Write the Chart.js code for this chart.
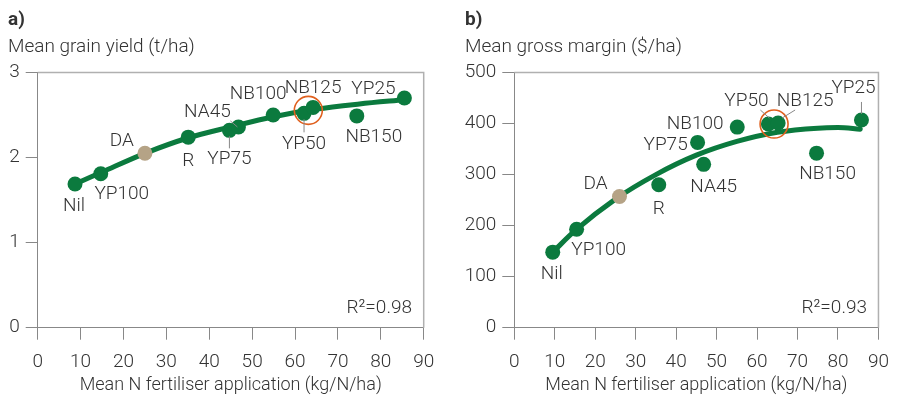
<!DOCTYPE html>
<html>
<head>
<meta charset="utf-8">
<script src="https://cdn.jsdelivr.net/npm/chart.js@4"></script>
<style>
  body { margin: 0; background: #fff; }
  .wrap { display: flex; width: 900px; height: 408px; }
  canvas { display: block; }
</style>
</head>
<body>
<div class="wrap">
  <canvas id="chartA" width="450" height="408"></canvas>
  <canvas id="chartB" width="450" height="408"></canvas>
</div>
<script>
// treatments, in the same order for both panels
const treatments = ['Nil', 'YP100', 'DA', 'R', 'YP75', 'NA45', 'NB100', 'YP50', 'NB125', 'NB150', 'YP25'];

// a) grain yield
const nRateA = [8.7, 14.7, 25.0, 35.1, 44.7, 46.8, 54.9, 62.1, 64.2, 74.4, 85.5];
const yieldA = [1.69, 1.81, 2.05, 2.24, 2.32, 2.36, 2.50, 2.52, 2.59, 2.49, 2.70];
const trendXA = [8.7, 15, 25, 35, 45, 55, 65, 75, 85.5];
const trendYA = [1.69, 1.83, 2.05, 2.23, 2.36, 2.48, 2.57, 2.63, 2.68];
const yTicksA = [0, 1, 2, 3];

// b) gross margin
const nRateB = [9.5, 15.4, 26.0, 35.7, 45.3, 46.8, 55.1, 62.8, 65.2, 74.7, 85.8];
const marginB = [148, 193, 257, 280, 363, 320, 393, 399, 401, 342, 407];
const trendXB = [9.5, 15, 25, 35, 45, 55, 65, 75, 80, 85.5];
const trendYB = [148, 190, 252, 300, 338, 365, 383, 391, 392, 389];
const yTicksB = [0, 100, 200, 300, 400, 500];

const xTicks = [0, 10, 20, 30, 40, 50, 60, 70, 80, 90];

// ringed treatments (YP50 / NB125)
const ringA = [{ x: 63.1, y: 2.555 }];
const ringB = [{ x: 64.2, y: 399 }];

const GREEN = '#0b7a3e';
const TAN = '#b5a386';
const ORANGE = '#e0601e';
const TEXT = '#333';
const FONT = 'Roboto, "Liberation Sans", sans-serif';

// label placement per treatment: [dx, dy] from the point, optional leader line
const labelsA = {
  Nil: { dx: -1, dy: 21 },
  YP100: { dx: 21, dy: 20 },
  DA: { dx: -23, dy: -13 },
  R: { dx: 0, dy: 23 },
  YP75: { dx: 0, dy: 28, lead: [0, 6, 0, 18] },
  NA45: { dx: -31, dy: -16, lead: [-8, -6, -1, 0] },
  NB100: { dx: -15, dy: -22 },
  YP50: { dx: 0, dy: 30, lead: [0, 6, 0, 19] },
  NB125: { dx: 0, dy: -20 },
  NB150: { dx: 17, dy: 20 },
  YP25: { dx: -31, dy: -10 }
};
const labelsB = {
  Nil: { dx: -1, dy: 21 },
  YP100: { dx: 22, dy: 20 },
  DA: { dx: -24, dy: -13 },
  R: { dx: 0, dy: 23 },
  YP75: { dx: -32, dy: 2 },
  NA45: { dx: 10, dy: 22 },
  NB100: { dx: -42, dy: -4 },
  YP50: { dx: -22, dy: -24, lead: [-8, -14, 1, -6] },
  NB125: { dx: 27, dy: -23, lead: [17, -13, 4, -5] },
  NB150: { dx: 11, dy: 20 },
  YP25: { dx: -8, dy: -33, lead: [0, -18, 0, -6] }
};

const panelText = {
  id: 'panelText',
  beforeDatasetsDraw(chart, args, opts) {
    const { ctx, chartArea: a } = chart;
    ctx.save();
    ctx.strokeStyle = '#b0b0b0';
    ctx.lineWidth = 1.5;
    ctx.beginPath();
    ctx.moveTo(a.left, a.top);
    ctx.lineTo(a.right, a.top);
    ctx.lineTo(a.right, a.bottom);
    ctx.stroke();
    ctx.restore();
  },
  afterDatasetsDraw(chart, args, opts) {
    const { ctx } = chart;
    const meta = chart.getDatasetMeta(0);
    ctx.save();
    ctx.fillStyle = TEXT;
    ctx.textBaseline = 'alphabetic';
    ctx.textAlign = 'left';
    ctx.font = 'bold 19px ' + FONT;
    ctx.fillText(opts.letter, opts.left, 25);
    ctx.font = '300 19px ' + FONT;
    ctx.fillText(opts.yTitle, opts.left, 52);
    ctx.textAlign = 'right';
    ctx.fillText(opts.r2, opts.r2x, 313);

    // point labels
    ctx.textAlign = 'center';
    ctx.textBaseline = 'middle';
    ctx.strokeStyle = '#888';
    ctx.lineWidth = 1;
    treatments.forEach((name, i) => {
      const p = meta.data[i];
      const l = opts.labels[name];
      if (!p || !l) return;
      ctx.fillText(name, p.x + l.dx, p.y + l.dy + 1);
      if (l.lead) {
        ctx.beginPath();
        ctx.moveTo(p.x + l.lead[0], p.y + l.lead[1]);
        ctx.lineTo(p.x + l.lead[2], p.y + l.lead[3]);
        ctx.stroke();
      }
    });
    ctx.restore();
  }
};

function makeChart(id, xs, ys, tx, ty, ring, yTicks, yMax, axisW, padRight, text) {
  const pts = xs.map((x, i) => ({ x, y: ys[i] }));
  const trend = tx.map((x, i) => ({ x, y: ty[i] }));
  const colors = treatments.map(t => (t === 'DA' ? TAN : GREEN));
  return new Chart(document.getElementById(id), {
    type: 'scatter',
    data: {
      datasets: [
        {
          data: pts,
          pointRadius: 7.5,
          pointBackgroundColor: colors,
          pointBorderWidth: 0,
          order: 1
        },
        {
          data: trend,
          showLine: true,
          borderColor: GREEN,
          borderWidth: 5,
          borderCapStyle: 'round',
          pointRadius: 0,
          cubicInterpolationMode: 'monotone',
          order: 2
        },
        {
          data: ring,
          pointRadius: 14,
          pointBackgroundColor: 'rgba(0,0,0,0)',
          pointBorderColor: ORANGE,
          pointBorderWidth: 1.6,
          order: 0
        }
      ]
    },
    options: {
      responsive: false,
      animation: false,
      events: [],
      layout: { padding: { top: 72.5, right: padRight, left: 0, bottom: 0 } },
      plugins: {
        legend: { display: false },
        tooltip: { enabled: false },
        panelText: text
      },
      scales: {
        x: {
          type: 'linear',
          min: 0,
          max: 90,
          afterBuildTicks: s => { s.ticks = xTicks.map(v => ({ value: v })); },
          afterFit: s => { s.height = 80.3; },
          grid: { drawOnChartArea: false, tickLength: 12, color: '#888' },
          border: { color: '#888', width: 1 },
          ticks: { color: TEXT, font: { family: FONT, size: 19, weight: '300' }, padding: 11 },
          title: {
            display: true,
            text: 'Mean N fertiliser application (kg/N/ha)',
            color: TEXT,
            font: { family: FONT, size: 18, weight: '300' },
            padding: { top: 0, bottom: 12 }
          }
        },
        y: {
          min: 0,
          max: yMax,
          afterBuildTicks: s => { s.ticks = yTicks.map(v => ({ value: v })); },
          afterFit: s => { s.width = axisW; },
          grid: { drawOnChartArea: false, tickLength: 12, color: '#888' },
          border: { color: '#888', width: 1 },
          ticks: { color: TEXT, font: { family: FONT, size: 19, weight: '300' }, padding: 6 }
        }
      }
    },
    plugins: [panelText]
  });
}

Chart.defaults.font.weight = '300';

makeChart('chartA', nRateA, yieldA, trendXA, trendYA, ringA, yTicksA, 3, 37.7, 26.3, {
  letter: 'a)', yTitle: 'Mean grain yield (t/ha)', left: 8, r2: 'R²=0.98', r2x: 412, labels: labelsA
});
makeChart('chartB', nRateB, marginB, trendXB, trendYB, ringB, yTicksB, 500, 64.3, 20, {
  letter: 'b)', yTitle: 'Mean gross margin ($/ha)', left: 15, r2: 'R²=0.93', r2x: 417, labels: labelsB
});
</script>
</body>
</html>
